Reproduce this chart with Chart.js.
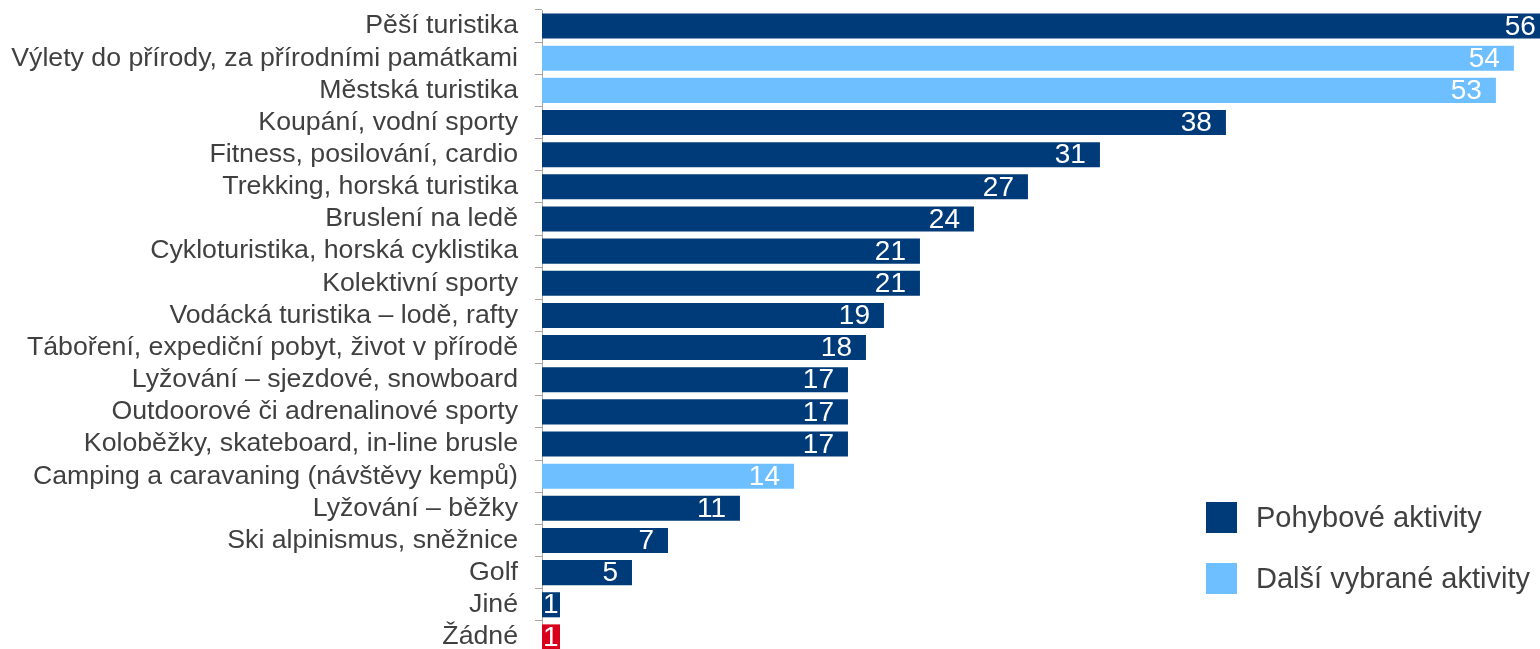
<!DOCTYPE html>
<html lang="cs">
<head>
<meta charset="utf-8">
<title>Aktivity</title>
<script src="https://cdn.jsdelivr.net/npm/chart.js@4/dist/chart.umd.min.js"></script>
<style>
  html, body { margin: 0; padding: 0; overflow: hidden; background: #ffffff; }
  #wrap { position: relative; width: 1540px; height: 653px; }
</style>
</head>
<body>
<div id="wrap"><canvas id="chart"></canvas></div>
<script>
// Activities, values in %
const categories = [
  'Pěší turistika',
  'Výlety do přírody, za přírodními památkami',
  'Městská turistika',
  'Koupání, vodní sporty',
  'Fitness, posilování, cardio',
  'Trekking, horská turistika',
  'Bruslení na ledě',
  'Cykloturistika, horská cyklistika',
  'Kolektivní sporty',
  'Vodácká turistika – lodě, rafty',
  'Táboření, expediční pobyt, život v přírodě',
  'Lyžování – sjezdové, snowboard',
  'Outdoorové či adrenalinové sporty',
  'Koloběžky, skateboard, in-line brusle',
  'Camping a caravaning (návštěvy kempů)',
  'Lyžování – běžky',
  'Ski alpinismus, sněžnice',
  'Golf',
  'Jiné',
  'Žádné'
];
const values = [56, 54, 53, 38, 31, 27, 24, 21, 21, 19, 18, 17, 17, 17, 14, 11, 7, 5, 1, 1];
// 0 = Pohybové aktivity, 1 = Další vybrané aktivity, 2 = Žádné
const groups = [0, 1, 1, 0, 0, 0, 0, 0, 0, 0, 0, 0, 0, 0, 1, 0, 0, 0, 0, 2];
const groupColors = ['#003B79', '#6DBFFF', '#D9001B'];
const legendLabels = ['Pohybové aktivity', 'Další vybrané aktivity'];

const FONT = '"Liberation Sans", Arial, sans-serif';
const TEXT = '#404040';

// White value labels at the inner end of each bar
const valueLabels = {
  id: 'valueLabels',
  afterDatasetsDraw(chart) {
    const ctx = chart.ctx;
    const meta = chart.getDatasetMeta(0);
    const area = chart.chartArea;
    ctx.save();
    ctx.beginPath();
    ctx.rect(area.left, area.top, area.right - area.left, area.bottom - area.top);
    ctx.clip();
    ctx.font = '28px ' + FONT;
    ctx.fillStyle = '#ffffff';
    ctx.textAlign = 'right';
    ctx.textBaseline = 'middle';
    meta.data.forEach((bar, i) => {
      const txt = String(values[i]);
      const w = ctx.measureText(txt).width;
      const x = Math.max(bar.x - 14, bar.base + w + 1);
      ctx.fillText(txt, x, bar.y + 1);
    });
    ctx.restore();
  }
};

// Legend with square swatches in the lower right corner
const squareLegend = {
  id: 'squareLegend',
  afterDraw(chart) {
    const ctx = chart.ctx;
    ctx.save();
    ctx.font = '29px ' + FONT;
    ctx.textAlign = 'left';
    ctx.textBaseline = 'middle';
    legendLabels.forEach((label, i) => {
      const y = 502 + i * 61;
      ctx.fillStyle = groupColors[i];
      ctx.fillRect(1206, y, 31, 31);
      ctx.fillStyle = TEXT;
      ctx.fillText(label, 1256, y + 17);
    });
    ctx.restore();
  }
};

new Chart(document.getElementById('chart'), {
  type: 'bar',
  data: {
    labels: categories,
    datasets: [{
      data: values,
      backgroundColor: groups.map(g => groupColors[g]),
      borderWidth: 0,
      barPercentage: 0.78,
      categoryPercentage: 1.0
    }]
  },
  options: {
    indexAxis: 'y',
    responsive: true,
    maintainAspectRatio: false,
    animation: false,
    layout: { padding: { top: 10, right: 0, bottom: 0, left: 0 } },
    plugins: {
      legend: { display: false },
      tooltip: { enabled: false }
    },
    scales: {
      x: {
        display: false,
        min: 0,
        max: 55.45
      },
      y: {
        afterFit(scale) {
          scale.width = 542;
          scale.paddingTop = 0;
          scale.paddingBottom = 0;
        },
        grid: {
          drawOnChartArea: false,
          drawTicks: true,
          tickLength: 7,
          offset: true,
          color: '#A6A6A6',
          lineWidth: 1
        },
        border: { display: true, color: '#A6A6A6', width: 1 },
        ticks: {
          color: TEXT,
          padding: 17,
          autoSkip: false,
          font: { family: FONT, size: 26.7 }
        }
      }
    }
  },
  plugins: [valueLabels, squareLegend]
});
</script>
</body>
</html>
